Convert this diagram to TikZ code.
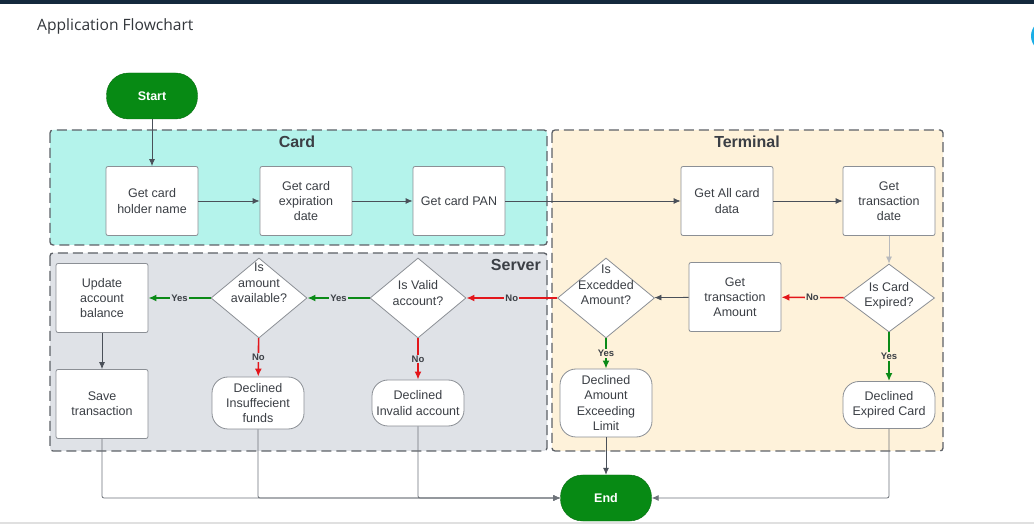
\documentclass[tikz,border=0pt]{standalone}
\usepackage{fontspec}
\setmainfont{Liberation Sans}
\newfontfamily\titlefont{Open Sans}
\usetikzlibrary{arrows.meta,shapes.geometric}
\definecolor{cardbg}{HTML}{B4F3EB}
\definecolor{termbg}{HTML}{FEF2DA}
\definecolor{servbg}{HTML}{DFE2E7}
\definecolor{lanegray}{HTML}{5D6167}
\definecolor{boxgray}{HTML}{8B8F95}
\definecolor{txtgray}{HTML}{3B3F45}
\definecolor{linegray}{HTML}{4A5059}
\definecolor{lightline}{HTML}{B8BABD}
\definecolor{startgreen}{HTML}{078A14}
\definecolor{yesgreen}{HTML}{0B8A17}
\definecolor{nored}{HTML}{E3161B}
\definecolor{topbar}{HTML}{14293D}
\definecolor{uiblue}{HTML}{1BAEE6}
\begin{document}
\begin{tikzpicture}[x=1pt,y=-1pt,font=\fontsize{12.5}{15.3}\selectfont,
 lane/.style={draw=lanegray,line width=1.3pt,dash pattern=on 10pt off 5pt,rounded corners=3pt},
 lanetitle/.style={font=\fontsize{16}{18}\selectfont\bfseries,text=txtgray,inner sep=0pt},
 proc/.style={draw=boxgray,line width=0.8pt,fill=white,rounded corners=2pt,minimum width=92pt,minimum height=69pt,align=center,text=txtgray,inner sep=2pt},
 decline/.style={proc,rounded corners=16pt},
 decision/.style={diamond,draw=boxgray,line width=0.8pt,fill=white,inner sep=0pt},
 dtext/.style={align=center,text=txtgray,inner sep=0pt},
 terminator/.style={fill=startgreen,draw=startgreen!80!black,rounded corners=22pt,minimum width=91pt,minimum height=46pt,text=white,font=\fontsize{12.5}{14}\selectfont\bfseries},
 flow/.style={draw=linegray,line width=0.8pt,-{Latex[length=7pt,width=6pt]}},
 yesflow/.style={flow,draw=yesgreen,line width=1.6pt,-{Latex[length=8pt,width=7pt]}},
 noflow/.style={flow,draw=nored,line width=1.6pt,-{Latex[length=8pt,width=7pt]}},
 tag/.style={font=\fontsize{9.5}{10}\selectfont\bfseries,text=txtgray,inner sep=1pt}]
\useasboundingbox (0,0) rectangle (1034,526);
\fill[white] (0,0) rectangle (1034,526);
\fill[topbar] (0,0) rectangle (1034,4);
\fill[uiblue] (1047,36) circle (16);
\fill[black!12] (0,522) rectangle (1034,524);
\node[anchor=base west,inner sep=0pt,text=txtgray!85!black,font=\titlefont\fontsize{15.6}{17}\selectfont] (title) at (37,31) {Application Flowchart};

\filldraw[lane,fill=cardbg] (50,130) rectangle (547,245);
\filldraw[lane,fill=servbg] (50,253) rectangle (547,451);
\filldraw[lane,fill=termbg] (552,130) rectangle (943,451);
\node[lanetitle] (cardlane) at (297,142) {Card};
\node[lanetitle] (termlane) at (747,142) {Terminal};
\node[lanetitle,anchor=east] (servlane) at (541,265) {Server};

\node[terminator] (start) at (152,96) {Start};
\node[terminator] (end) at (606,498) {End};

\node[proc] (holder) at (152,201) {Get card\\holder name};
\node[proc] (expdate) at (306,201) {Get card\\expiration\\date};
\node[proc] (pan) at (459,201) {Get card PAN};
\node[proc] (alldata) at (727,201) {Get All card\\data};
\node[proc] (trdate) at (889,201) {Get\\transaction\\date};
\node[proc] (tramount) at (735,297) {Get\\transaction\\Amount};
\node[proc] (update) at (102,298) {Update\\account\\balance};
\node[proc] (save) at (102,404) {Save\\transaction};

\node[decision,minimum width=91pt,minimum height=68pt] (expired) at (889,298) {};
\node[decision,minimum width=97pt,minimum height=80pt] (exceed) at (606,298) {};
\node[decision,minimum width=96pt,minimum height=80pt] (valid) at (418,298) {};
\node[decision,minimum width=96pt,minimum height=80pt] (amount) at (259,298) {};
\node[dtext] (expiredtxt) at (889,296) {Is Card\\Expired?};
\node[dtext] (exceedtxt) at (606,285) {Is\\Excedded\\Amount?};
\node[dtext] (validtxt) at (418,293) {Is Valid\\account?};
\node[dtext] (amounttxt) at (259,283) {Is\\amount\\available?};

\node[decline,minimum height=47pt] (expcard) at (889,405) {Declined\\Expired Card};
\node[decline,minimum height=68pt] (limit) at (606,403) {Declined\\Amount\\Exceeding\\Limit};
\node[decline,minimum height=46pt] (invalid) at (418,403) {Declined\\Invalid account};
\node[decline,minimum height=52pt] (insuff) at (258,403) {Declined\\Insuffecient\\funds};

\draw[flow] (start) -- (holder);
\draw[flow] (holder) -- (expdate);
\draw[flow] (expdate) -- (pan);
\draw[flow] (pan) -- (alldata);
\draw[flow] (alldata) -- (trdate);
\draw[flow,draw=lightline] (trdate) -- (expired);
\draw[noflow] (expired) -- node[tag,fill=termbg] {No} (tramount);
\draw[yesflow] (expired) -- node[tag,fill=termbg] {Yes} (expcard);
\draw[flow] (tramount) -- (exceed);
\draw[noflow] (exceed) -- node[tag,fill=servbg] {No} (valid);
\draw[yesflow] (exceed) -- node[tag,fill=termbg] {Yes} (limit);
\draw[yesflow] (valid) -- node[tag,fill=servbg] {Yes} (amount);
\draw[noflow] (valid) -- node[tag,fill=servbg] {No} (invalid);
\draw[yesflow] (amount) -- node[tag,fill=servbg] {Yes} (update);
\draw[noflow] (amount) -- node[tag,fill=servbg] {No} (insuff);
\draw[flow] (update) -- (save);
\draw[flow] (limit) -- (end);
\foreach \n in {save,insuff,invalid}
 \draw[flow,draw=linegray!80,rounded corners=2pt] (\n) |- (end);
\draw[flow,draw=linegray!80,rounded corners=2pt] (expcard) |- (end);
\end{tikzpicture}
\end{document}
